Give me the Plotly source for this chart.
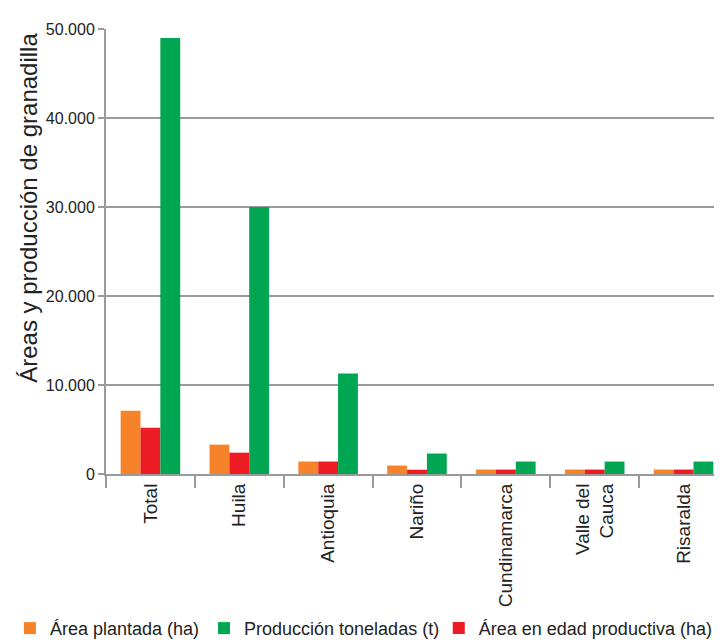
import plotly.graph_objects as go

categories = ["Total", "Huila", "Antioquia", "Nariño", "Cundinamarca", "Valle del<br>Cauca", "Risaralda"]
area_plantada = [7100, 3300, 1400, 950, 500, 500, 500]
area_productiva = [5200, 2400, 1400, 480, 500, 500, 500]
produccion = [49000, 30000, 11300, 2300, 1400, 1400, 1400]
y_ticks = [0, 10000, 20000, 30000, 40000, 50000]
y_title = "Áreas y producción de granadilla"

FONT = "Liberation Sans, Arial, sans-serif"

fig = go.Figure()
fig.add_trace(go.Bar(x=categories, y=area_plantada, name="Área plantada (ha)",
                     marker=dict(color="#F6822A", line=dict(width=0)), legend="legend"))
fig.add_trace(go.Bar(x=categories, y=area_productiva, name="Área en edad productiva (ha)",
                     marker=dict(color="#ED1C24", line=dict(width=0)), legend="legend3"))
fig.add_trace(go.Bar(x=categories, y=produccion, name="Producción toneladas (t)",
                     marker=dict(color="#00A651", line=dict(width=0)), legend="legend2"))

leg_common = dict(orientation="h", xanchor="left", y=-0.347, yanchor="middle",
                  font=dict(size=18), bgcolor="rgba(0,0,0,0)", itemwidth=30)

fig.update_layout(
    width=722, height=641,
    margin=dict(l=92, r=2, t=21, b=168),
    paper_bgcolor="white", plot_bgcolor="white",
    barmode="group", bargap=0.33, bargroupgap=0,
    separators=",.",
    font=dict(family=FONT, size=16, color="#222"),
    showlegend=True,
    legend=dict(x=-0.1545, **leg_common),
    legend2=dict(x=0.1576, **leg_common),
    legend3=dict(x=0.535, **leg_common),
    xaxis=dict(showline=True, linecolor="#9a9a9a", linewidth=2,
               ticks="outside", tickson="boundaries", ticklen=12, tickcolor="#9a9a9a", tickwidth=2,
               tickangle=-90, tickfont=dict(size=19), showgrid=False),
    yaxis=dict(range=[0, 50000], tickvals=y_ticks, tickformat=",d",
               showline=True, linecolor="#9a9a9a", linewidth=2,
               ticks="outside", ticklen=6, tickcolor="#9a9a9a", tickwidth=2,
               showgrid=True, gridcolor="#9a9a9a", gridwidth=1.5, zeroline=False,
               tickfont=dict(size=16)),
    annotations=[dict(text=y_title, textangle=-90, xref="paper", yref="paper",
                      x=-0.124, y=0.598, xanchor="center", yanchor="middle",
                      showarrow=False, font=dict(size=24))],
)

fig.write_html("out.html")
